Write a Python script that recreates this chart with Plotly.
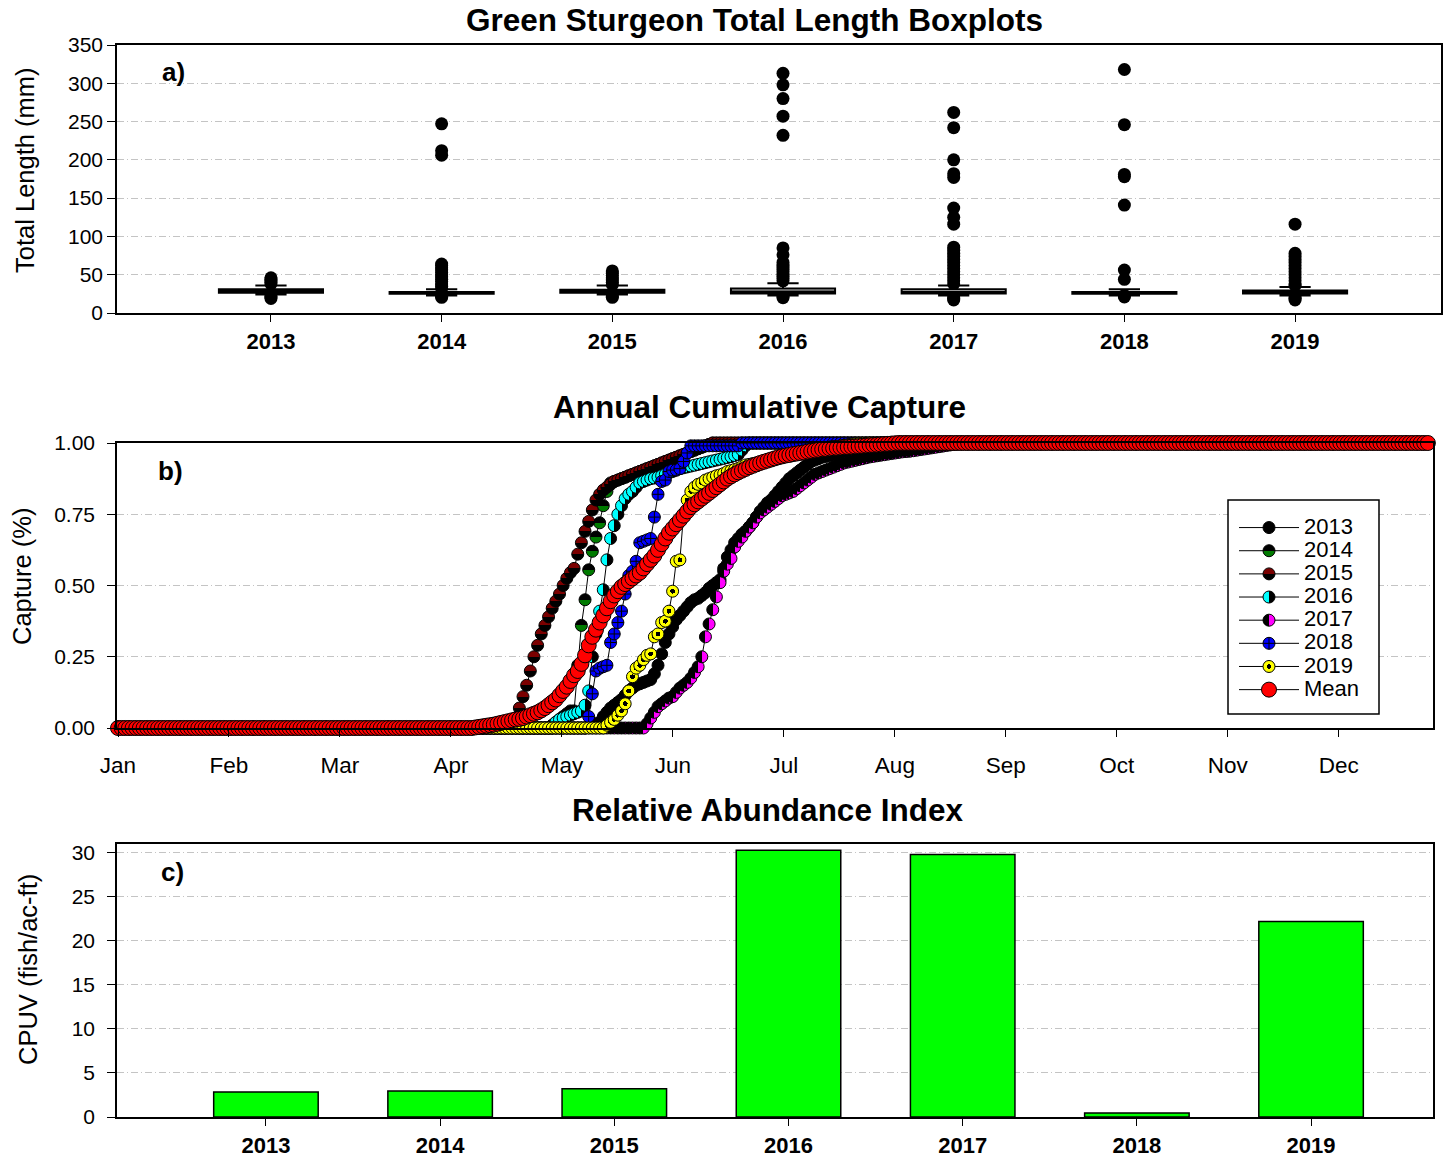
import plotly.graph_objects as go

W, H = 1443, 1158
FONT = "Arial, 'Liberation Sans', sans-serif"

# ---------------- data ----------------
years = [2013, 2014, 2015, 2016, 2017, 2018, 2019]
year_labels = ["2013", "2014", "2015", "2016", "2017", "2018", "2019"]

# a) total length (mm) box statistics per year
tl_lowerfence = [24, 23, 24, 23, 23, 23, 23]
tl_q1 = [26.5, 25, 26.5, 25.5, 25.5, 25, 25.5]
tl_median = [28.5, 26, 28.5, 28, 27.5, 26, 27]
tl_q3 = [31, 27.5, 30.5, 32, 31, 27.5, 29.5]
tl_upperfence = [36, 31, 36, 39, 36, 31, 34]

# a) outlying total lengths (mm)
outliers_2013 = [19, 21, 22.5, 38, 40, 42, 44, 46]
outliers_2014 = [247, 212, 206, 64, 62, 59, 56, 53, 50, 47, 44, 41, 38, 35, 32, 22, 20.5]
outliers_2015 = [55, 52, 49, 46, 43, 40, 37, 22, 20.5]
outliers_2016 = [313, 298, 280, 257, 232, 85, 76, 66, 63, 60, 57, 54, 51, 48, 45, 42, 22, 20]
outliers_2017 = [262, 242, 200, 182, 177, 137, 125, 116, 86, 82, 78, 74, 70, 66, 62, 58,
                 54, 50, 46, 42, 38, 21, 19, 17]
outliers_2018 = [318, 246, 181, 178, 141, 56, 44, 23, 21]
outliers_2019 = [116, 78, 74, 70, 66, 62, 58, 54, 50, 46, 42, 38, 36, 21, 19, 17]
outliers = [outliers_2013, outliers_2014, outliers_2015, outliers_2016,
            outliers_2017, outliers_2018, outliers_2019]

# b) cumulative proportion of the annual catch, by day of year (day 0 = 1 Jan).
# Each list holds the daily values from its first capture day until the total
# is reached; before that the proportion is 0 and afterwards it is 1.
n_days = 360
month_labels = ["Jan", "Feb", "Mar", "Apr", "May", "Jun",
                "Jul", "Aug", "Sep", "Oct", "Nov", "Dec"]

first_day_2013 = 129
cum_2013 = [0.005, 0.01, 0.015, 0.02, 0.04, 0.055, 0.07, 0.08, 0.09, 0.10,
            0.115, 0.13, 0.14, 0.15, 0.155, 0.16, 0.165, 0.17, 0.19, 0.22,
            0.26, 0.30, 0.33, 0.355, 0.38, 0.395, 0.41, 0.425, 0.44, 0.45,
            0.455, 0.465, 0.475, 0.49, 0.50, 0.51, 0.52, 0.56, 0.60, 0.625,
            0.65, 0.665, 0.68, 0.69, 0.705, 0.72, 0.74, 0.76, 0.775, 0.79,
            0.80, 0.815, 0.83, 0.845, 0.86, 0.875, 0.885, 0.895, 0.905, 0.915,
            0.925, 0.935, 0.94, 0.945, 0.95, 0.953, 0.956, 0.959, 0.962, 0.965,
            0.967, 0.969, 0.971, 0.973, 0.975, 0.977, 0.979, 0.981, 0.983, 0.985,
            0.987, 0.989, 0.991, 0.993, 0.995, 0.997, 0.999]

first_day_2014 = 119
cum_2014 = [0.01, 0.02, 0.03, 0.04, 0.05, 0.06, 0.06, 0.22, 0.36, 0.45,
            0.555, 0.62, 0.67, 0.72, 0.78, 0.83, 0.86, 0.865, 0.87, 0.875,
            0.88, 0.885, 0.89, 0.895, 0.90, 0.905, 0.91, 0.915, 0.92, 0.925,
            0.93, 0.935, 0.94, 0.945, 0.95, 0.955, 0.96, 0.965, 0.97, 0.975,
            0.98, 0.985, 0.99, 0.995]

first_day_2015 = 107
cum_2015 = [0.005, 0.015, 0.035, 0.07, 0.11, 0.15, 0.20, 0.25, 0.29, 0.33,
            0.36, 0.39, 0.42, 0.445, 0.47, 0.50, 0.525, 0.545, 0.56, 0.61,
            0.65, 0.69, 0.725, 0.765, 0.80, 0.82, 0.835, 0.845, 0.855, 0.865,
            0.87, 0.875, 0.88, 0.885, 0.89, 0.895, 0.90, 0.905, 0.91, 0.915,
            0.92, 0.925, 0.93, 0.935, 0.94, 0.945, 0.95, 0.955, 0.96, 0.965,
            0.97, 0.975, 0.98, 0.985, 0.99, 0.995]

first_day_2016 = 120
cum_2016 = [0.02, 0.03, 0.035, 0.04, 0.045, 0.05, 0.055, 0.06, 0.08, 0.13,
            0.25, 0.33, 0.41, 0.485, 0.59, 0.665, 0.71, 0.75, 0.78, 0.805,
            0.82, 0.83, 0.845, 0.86, 0.865, 0.87, 0.875, 0.877, 0.88, 0.885,
            0.89, 0.895, 0.90, 0.905, 0.91, 0.913, 0.916, 0.919, 0.922, 0.925,
            0.928, 0.931, 0.934, 0.937, 0.94, 0.943, 0.946, 0.949, 0.952, 0.956,
            0.96, 0.975, 0.99]

first_day_2017 = 145
cum_2017 = [0.015, 0.035, 0.055, 0.075, 0.085, 0.095, 0.105, 0.11, 0.125, 0.14,
            0.15, 0.16, 0.175, 0.195, 0.215, 0.25, 0.32, 0.365, 0.415, 0.46,
            0.51, 0.55, 0.575, 0.595, 0.635, 0.655, 0.67, 0.69, 0.705, 0.72,
            0.74, 0.755, 0.765, 0.775, 0.785, 0.795, 0.805, 0.815, 0.82, 0.825,
            0.83, 0.84, 0.85, 0.86, 0.87, 0.88, 0.89, 0.895, 0.90, 0.905,
            0.91, 0.915, 0.92, 0.925, 0.93, 0.933, 0.936, 0.939, 0.942, 0.945,
            0.948, 0.951, 0.953, 0.955, 0.957, 0.959, 0.961, 0.963, 0.965, 0.967,
            0.969, 0.97, 0.971, 0.973, 0.975, 0.977, 0.979, 0.981, 0.983, 0.985,
            0.987, 0.989, 0.991, 0.993, 0.995, 0.997, 0.999]

first_day_2018 = 129
cum_2018 = [0.04, 0.12, 0.20, 0.21, 0.215, 0.22, 0.30, 0.33, 0.37, 0.41,
            0.47, 0.535, 0.55, 0.585, 0.65, 0.655, 0.66, 0.665, 0.74, 0.82,
            0.865, 0.87, 0.90, 0.905, 0.905, 0.91, 0.935, 0.965, 0.99, 0.99,
            0.99, 0.99, 0.99, 0.99, 0.99, 0.99, 0.99, 0.99, 0.99, 0.99,
            0.99, 0.99]

first_day_2019 = 134
cum_2019 = [0.01, 0.02, 0.03, 0.045, 0.06, 0.085, 0.13, 0.18, 0.21, 0.22,
            0.24, 0.255, 0.26, 0.32, 0.33, 0.37, 0.375, 0.41, 0.48, 0.585,
            0.59, 0.75, 0.80, 0.83, 0.845, 0.855, 0.86, 0.87, 0.875, 0.88,
            0.885, 0.888, 0.893, 0.90, 0.903, 0.907, 0.911, 0.917, 0.923, 0.925,
            0.928, 0.93, 0.932, 0.934, 0.937, 0.94, 0.944, 0.947, 0.95, 0.953,
            0.956, 0.959, 0.962, 0.965, 0.967, 0.97, 0.972, 0.975, 0.977, 0.98,
            0.982, 0.984, 0.986, 0.988, 0.99, 0.992, 0.994, 0.996, 0.997, 0.998,
            0.999, 0.999]

first_day_mean = 98
cum_mean = [0.002, 0.004, 0.006, 0.008, 0.01, 0.012, 0.015, 0.018, 0.021, 0.024,
            0.027, 0.03, 0.032, 0.035, 0.04, 0.045, 0.05, 0.055, 0.062, 0.07,
            0.08, 0.09, 0.10, 0.115, 0.13, 0.145, 0.165, 0.185, 0.20, 0.225,
            0.255, 0.29, 0.32, 0.345, 0.37, 0.395, 0.42, 0.445, 0.465, 0.48,
            0.495, 0.505, 0.515, 0.525, 0.535, 0.545, 0.56, 0.575, 0.59, 0.605,
            0.625, 0.645, 0.665, 0.685, 0.70, 0.715, 0.73, 0.745, 0.76, 0.775,
            0.785, 0.795, 0.805, 0.815, 0.825, 0.835, 0.845, 0.855, 0.865, 0.875,
            0.883, 0.89, 0.897, 0.903, 0.909, 0.915, 0.92, 0.925, 0.93, 0.934,
            0.938, 0.942, 0.946, 0.95, 0.953, 0.956, 0.958, 0.961, 0.963, 0.965,
            0.967, 0.97, 0.972, 0.974, 0.976, 0.978, 0.979, 0.981, 0.982, 0.983,
            0.984, 0.985, 0.986, 0.987, 0.988, 0.989, 0.99, 0.991, 0.992, 0.993,
            0.994, 0.995, 0.996, 0.997, 0.998, 0.999]

# c) relative abundance (CPUV, fish per acre-foot)
cpuv = [2.85, 2.95, 3.2, 30.3, 29.8, 0.45, 22.2]


# ---------------- helpers ----------------
def px_x(x):
    return x / W


def px_y(y):
    return 1 - y / H


def full_year(first_day, values):
    """Daily cumulative proportion: 0 before the first capture, 1 once complete."""
    tail = n_days - first_day - len(values)
    return [0.0] * first_day + list(values) + [1.0] * tail


days = list(range(n_days))
month_ticks = [m * 365 / 12 for m in range(12)]

GRID = dict(showgrid=True, gridcolor="#c4c4c4", gridwidth=1, griddash="7px,3px,1px,3px")
FRAME = dict(showline=True, linecolor="black", linewidth=1.5, mirror=True,
             layer="above traces", zeroline=False, ticks="outside",
             tickcolor="black", tickwidth=1)

fig = go.Figure()

# ---------------- a) box plots ----------------
# outlying fish first, so the boxes are drawn over their columns
ox, oy = [], []
for yr, vals in zip(years, outliers):
    ox += [yr] * len(vals)
    oy += vals
fig.add_trace(go.Box(
    x=ox, y=oy, xaxis="x", yaxis="y", showlegend=False, width=0.61,
    boxpoints="all", jitter=0, pointpos=0, whiskerwidth=0,
    fillcolor="rgba(0,0,0,0)", line=dict(color="rgba(0,0,0,0)", width=0),
    marker=dict(size=13, color="black", line=dict(width=0))))
fig.add_trace(go.Box(
    x=years, q1=tl_q1, median=tl_median, q3=tl_q3,
    lowerfence=tl_lowerfence, upperfence=tl_upperfence,
    xaxis="x", yaxis="y", width=0.61, whiskerwidth=0.3, boxpoints=False,
    fillcolor="#c8c8c8", line=dict(color="black", width=2), showlegend=False))

# ---------------- b) cumulative capture ----------------
series = [
    ("2013", full_year(first_day_2013, cum_2013),
     dict(symbol="circle", size=12, color="black")),
    ("2014", full_year(first_day_2014, cum_2014),
     dict(symbol="circle", size=12, color="black",
          gradient=dict(type="vertical", color="#007a00"))),
    ("2015", full_year(first_day_2015, cum_2015),
     dict(symbol="circle", size=12, color="#7a0000",
          gradient=dict(type="vertical", color="black"))),
    ("2016", full_year(first_day_2016, cum_2016),
     dict(symbol="circle", size=12, color="#00ffff",
          gradient=dict(type="horizontal", color="black"))),
    ("2017", full_year(first_day_2017, cum_2017),
     dict(symbol="circle", size=12, color="black",
          gradient=dict(type="horizontal", color="#ff00ff"))),
    ("2018", full_year(first_day_2018, cum_2018),
     dict(symbol="circle-cross", size=12, color="#0000ff")),
    ("2019", full_year(first_day_2019, cum_2019),
     dict(symbol="circle", size=12, color="#ffff00",
          gradient=dict(type="radial", color="black"))),
    ("Mean", full_year(first_day_mean, cum_mean),
     dict(symbol="circle", size=15, color="#ff0000")),
]
for name, yv, mk in series:
    mk = dict(mk)
    mk["line"] = dict(color="black", width=1)
    fig.add_trace(go.Scatter(
        x=days, y=yv, name=name, mode="lines+markers", xaxis="x2", yaxis="y2",
        line=dict(color="black", width=1), marker=mk, cliponaxis=False))

# ---------------- c) relative abundance ----------------
fig.add_trace(go.Bar(
    x=years, y=cpuv, width=0.6, xaxis="x3", yaxis="y3", showlegend=False,
    marker=dict(color="#00ff00", line=dict(color="black", width=1.5))))

# ---------------- layout ----------------
tick_font = dict(family=FONT, size=21, color="black")
year_font = dict(family=FONT, size=22, color="black", weight="bold")

fig.update_layout(
    width=W, height=H, margin=dict(l=0, r=0, t=0, b=0, autoexpand=False),
    paper_bgcolor="white", plot_bgcolor="white",
    font=dict(family=FONT, color="black"),
    boxmode="overlay",
    xaxis=dict(domain=[px_x(117), px_x(1441)], anchor="y",
               range=[2012.098, 2019.855], tickvals=years, ticktext=year_labels,
               tickfont=year_font, ticklen=7, ticklabelstandoff=1,
               showgrid=False, **FRAME),
    yaxis=dict(domain=[px_y(313), px_y(45)], anchor="x", range=[0, 350],
               tickvals=[0, 50, 100, 150, 200, 250, 300, 350], tickfont=tick_font,
               ticklen=8, **GRID, **FRAME),
    xaxis2=dict(domain=[px_x(117), px_x(1433)], anchor="y2",
                range=[-0.274, 360.4], tickvals=month_ticks, ticktext=month_labels,
                tickfont=dict(family=FONT, size=22.5, color="black"),
                ticklen=7, ticklabelstandoff=9, showgrid=False, **FRAME),
    yaxis2=dict(domain=[px_y(728), px_y(443)], anchor="x2", range=[0, 1],
                tickvals=[0, 0.25, 0.5, 0.75, 1.0], tickformat=".2f",
                tickfont=tick_font, ticklen=8, ticklabelstandoff=8, **GRID, **FRAME),
    xaxis3=dict(domain=[px_x(117), px_x(1433)], anchor="y3",
                range=[2012.145, 2019.70], tickvals=years, ticktext=year_labels,
                tickfont=year_font, ticklen=7, ticklabelstandoff=1,
                showgrid=False, **FRAME),
    yaxis3=dict(domain=[px_y(1117), px_y(844)], anchor="x3", range=[0, 31],
                tickvals=[0, 5, 10, 15, 20, 25, 30], tickfont=tick_font,
                ticklen=8, ticklabelstandoff=8, **GRID, **FRAME),
    legend=dict(x=px_x(1234), y=px_y(511), xanchor="left", yanchor="top",
                bgcolor="rgba(0,0,0,0)", borderwidth=0, itemwidth=60,
                font=dict(family=FONT, size=15.5, color="black"),
                tracegroupgap=0, itemclick=False),
    shapes=[dict(type="rect", xref="paper", yref="paper",
                 x0=px_x(1228), x1=px_x(1379), y0=px_y(714), y1=px_y(500),
                 fillcolor="white", line=dict(color="black", width=1.5),
                 layer="above")],
)

title_font = dict(family=FONT, size=31.5, color="black", weight="bold")
axis_title_font = dict(family=FONT, size=25.5, color="black")
panel_font = dict(family=FONT, size=26, color="black", weight="bold")

annotations = [
    (754, 20, "Green Sturgeon Total Length Boxplots", title_font, 0),
    (759, 407, "Annual Cumulative Capture", title_font, 0),
    (767, 810, "Relative Abundance Index", title_font, 0),
    (25, 170, "Total Length (mm)", axis_title_font, -90),
    (22, 577, "Capture (%)", axis_title_font, -90),
    (28, 970, "CPUV (fish/ac-ft)", axis_title_font, -90),
    (173, 72, "a)", panel_font, 0),
    (170, 471, "b)", panel_font, 0),
    (172, 872, "c)", panel_font, 0),
]
for x, y, text, f, ang in annotations:
    fig.add_annotation(x=px_x(x), y=px_y(y), xref="paper", yref="paper",
                       text=text, showarrow=False, font=f, textangle=ang,
                       xanchor="center", yanchor="middle")

# Two-tone markers: turn each two-stop marker gradient into a hard split,
# and draw the legend labels at the same size as the axis text.
post = """
var gd = document.getElementById('{plot_id}');
gd.querySelectorAll('linearGradient, radialGradient').forEach(function(g) {
  var s = g.querySelectorAll('stop');
  if (s.length !== 2) return;
  var cut = g.tagName.toLowerCase() === 'radialgradient' ? '40%' : '50%';
  var a = s[0].cloneNode(true), b = s[1].cloneNode(true);
  a.setAttribute('offset', cut); b.setAttribute('offset', cut);
  g.insertBefore(a, s[1]); g.insertBefore(b, s[1]);
});
gd.querySelectorAll('.legend [clip-path]').forEach(function(el) {
  el.removeAttribute('clip-path');
});
gd.querySelectorAll('.legendtext').forEach(function(t) {
  t.style.fontSize = '22px';
});
"""

fig.write_html("out.html", post_script=post, config={"responsive": False})
